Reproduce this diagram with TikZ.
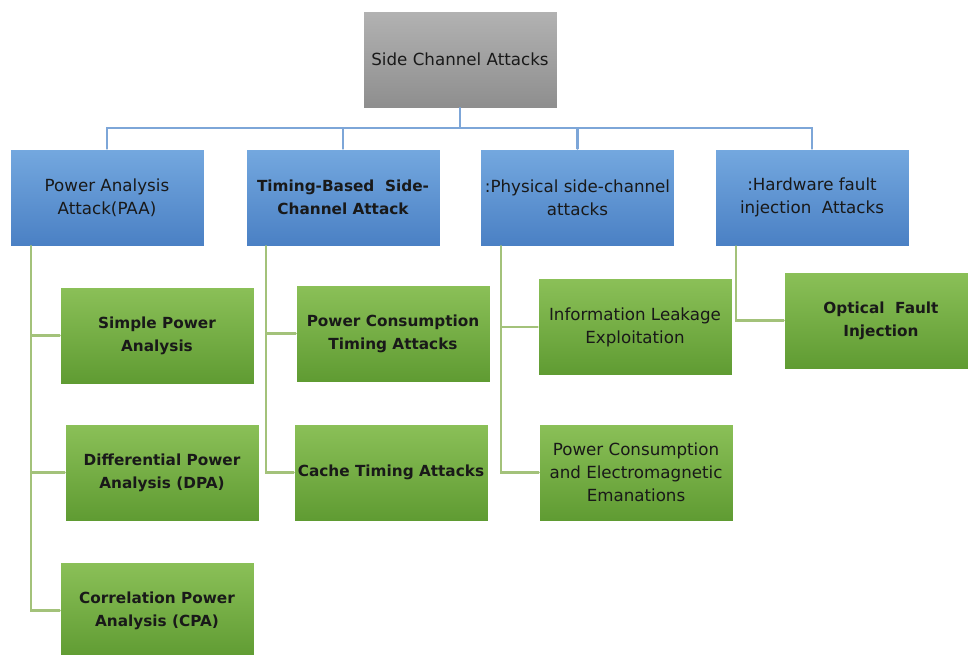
\documentclass[tikz,border=0pt]{standalone}
\usepackage{fontspec}
\setmainfont{DejaVu Sans}
\definecolor{rootTop}{HTML}{B2B2B2}
\definecolor{rootBot}{HTML}{8E8E8E}
\definecolor{catTop}{HTML}{74A8DF}
\definecolor{catBot}{HTML}{4A80C4}
\definecolor{leafTop}{HTML}{8BC058}
\definecolor{leafBot}{HTML}{5F9B32}
\definecolor{linkBlue}{HTML}{7DA6D8}
\definecolor{linkGreen}{HTML}{A3C27A}
\begin{document}
\begin{tikzpicture}[x=0.02cm, y=-0.02cm, line cap=round,
		box/.style={minimum width=3.88cm, minimum height=1.94cm, inner sep=0.5pt,
			align=center, draw=white, line width=0.4pt, text=black!90,
			font=\fontsize{9.5}{13}\selectfont},
		rootbox/.style={box, top color=rootTop, bottom color=rootBot},
		catbox/.style={box, top color=catTop, bottom color=catBot},
		leafbox/.style={box, top color=leafTop, bottom color=leafBot},
		boldtxt/.style={font=\bfseries\fontsize{8.7}{13}\selectfont},
		bluelink/.style={draw=linkBlue, line width=1.3pt},
		greenlink/.style={draw=linkGreen, line width=1.3pt}]
			\useasboundingbox (0,0) rectangle (968,655);
			\clip (0,0) rectangle (968,655);

			% 根节点
			\node[rootbox] (root) at (460,59.5) {Side Channel Attacks};

			% 第一层：四类攻击
			\node[catbox] (paa) at (107,197.5) {Power Analysis\\Attack(PAA)};
			\node[catbox, boldtxt] (timing) at (343,197.5) {Timing-Based\ \ Side-\\Channel Attack};
			\node[catbox] (phys) at (577.5,197.5) {:Physical side-channel\\attacks};
			\node[catbox] (hw) at (812,197.5) {:Hardware fault\\injection\ \ Attacks};

			% 第二层：具体方法
			\node[leafbox, boldtxt] (spa) at (157,335.5) {Simple Power\\Analysis};
			\node[leafbox, boldtxt] (dpa) at (162,472.5) {Differential Power\\Analysis (DPA)};
			\node[leafbox, boldtxt] (cpa) at (157,610.5) {Correlation Power\\Analysis (CPA)};
			\node[leafbox, boldtxt] (pcta) at (393,333.5) {Power Consumption\\Timing Attacks};
			\node[leafbox, boldtxt] (cta) at (391,472.5) {Cache Timing Attacks};
			\node[leafbox] (ile) at (635,327) {Information Leakage\\Exploitation};
			\node[leafbox] (pcee) at (636,472.5) {Power Consumption\\and Electromagnetic\\Emanations};
			\node[leafbox, boldtxt] (ofi) at (881,320.5) {Optical\ \ Fault\\Injection};

			% 根到第一层的连线
			\foreach \cat in {paa,timing,phys,hw}
				\draw[bluelink] (root.south) -- ++(0,20) -| (\cat.north);

			% 第一层到第二层的连线
			\draw[greenlink] ([xshift=0.42cm]paa.south west) |- (spa.west);
			\draw[greenlink] ([xshift=0.42cm]paa.south west) |- (dpa.west);
			\draw[greenlink] ([xshift=0.42cm]paa.south west) |- (cpa.west);
			\draw[greenlink] ([xshift=0.40cm]timing.south west) |- (pcta.west);
			\draw[greenlink] ([xshift=0.40cm]timing.south west) |- (cta.west);
			\draw[greenlink] ([xshift=0.42cm]phys.south west) |- (ile.west);
			\draw[greenlink] ([xshift=0.42cm]phys.south west) |- (pcee.west);
			\draw[greenlink] ([xshift=0.42cm]hw.south west) |- (ofi.west);
		\end{tikzpicture}
\end{document}
